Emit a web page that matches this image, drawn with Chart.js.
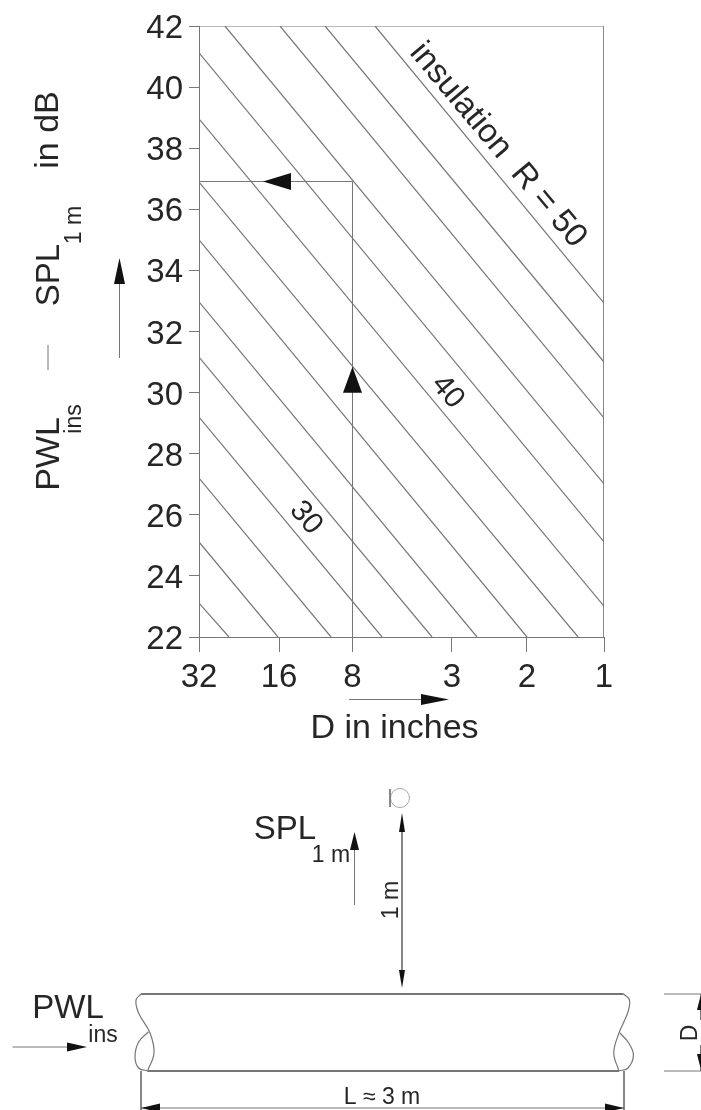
<!DOCTYPE html>
<html>
<head>
<meta charset="utf-8">
<script src="https://cdn.jsdelivr.net/npm/chart.js@4"></script>
<style>
  html, body { margin: 0; padding: 0; background: #fff; overflow: hidden; }
  canvas { display: block; }
</style>
</head>
<body>
<canvas id="nomogram" width="701" height="760"></canvas>
<canvas id="pipe" width="701" height="350"></canvas>
<script>
// tick labels, x axis runs in octave steps from D = 32
var xTickLabels = ['32', '16', '8', '3', '2', '1'];
var xTickPos = [0, 0.988, 1.895, 3.123, 4.049, 5];
var yMin = 22, yMax = 42, yStep = 2;

// insulation lines (start and end of each one)
var lineStartX = [0, 0, 0, 0, 0, 0, 0, 0, 0, 0, 0.32, 1.0, 1.556, 2.173];
var lineStartY = [23.11, 25.11, 27.2, 29.2, 31.16, 32.97, 35.0, 36.89, 38.96, 41.12, 42, 42, 42, 42];
var lineEndX = [0.37, 0.975, 1.63, 2.26, 2.877, 3.432, 4.049, 4.68, 5, 5, 5, 5, 5, 5];
var lineEndY = [22, 22, 22, 22, 22, 22, 22, 22, 23.01, 25.11, 27.01, 29.17, 31.0, 32.93];

// worked example: D = 8 inches gives 37 dB
var guideX = [1.895, 1.895, 0];
var guideY = [22, 36.91, 36.91];

// frame top and right
var frameX = [0, 5, 5];
var frameY = [42, 42, 22];

var LINE = '#767676', INK = '#262626', FONT = '"Liberation Sans", Arial, sans-serif';

function xy(xs, ys) {
  return xs.map(function (x, i) { return { x: x, y: ys[i] }; });
}

function lineSet(xs, ys, width, tension) {
  return {
    type: 'line', data: xy(xs, ys), borderColor: LINE, borderWidth: width || 1,
    pointRadius: 0, fill: false, tension: tension || 0
  };
}

function label(ctx, text, x, y, size, deg) {
  ctx.save();
  ctx.translate(x, y);
  ctx.rotate((deg || 0) * Math.PI / 180);
  ctx.font = size + 'px ' + FONT;
  ctx.fillStyle = INK;
  ctx.textAlign = 'center';
  ctx.textBaseline = 'middle';
  ctx.fillText(text, 0, 0);
  ctx.restore();
}

// filled arrow head, tip at x,y pointing along deg (0 = right, -90 = up)
function head(chart, x, y, deg, len, wide) {
  var ctx = chart.ctx;
  ctx.save();
  ctx.translate(chart.scales.x.getPixelForValue(x), chart.scales.y.getPixelForValue(y));
  ctx.rotate(deg * Math.PI / 180);
  ctx.beginPath();
  ctx.moveTo(0, 0);
  ctx.lineTo(-len, -wide / 2);
  ctx.lineTo(-len, wide / 2);
  ctx.closePath();
  ctx.fillStyle = '#111';
  ctx.fill();
  ctx.restore();
}

var datasets = [];
for (var i = 0; i < lineStartX.length; i++) {
  datasets.push(lineSet([lineStartX[i], lineEndX[i]], [lineStartY[i], lineEndY[i]], 1.2));
}
datasets.push(lineSet(guideX, guideY));
datasets.push(lineSet(frameX, frameY));

var nomogramNotes = {
  id: 'nomogramNotes',
  beforeDraw: function (chart) {
    // y labels sit a little under their ticks in the reference
    chart.scales.y.getLabelItems().forEach(function (item) {
      item.options.translation[1] += 3;
    });
  },
  afterDatasetsDraw: function (chart) {
    var ctx = chart.ctx, sx = chart.scales.x, sy = chart.scales.y;

    label(ctx, 'insulation  R = 50', sx.getPixelForValue(3.69), sy.getPixelForValue(38.1), 33, 50);
    label(ctx, '40', sx.getPixelForValue(3.07), sy.getPixelForValue(30.02), 30, 50);
    label(ctx, '30', sx.getPixelForValue(1.32), sy.getPixelForValue(25.9), 30, 50);

    head(chart, 1.895, 30.85, -90, 26, 19);
    head(chart, 0.79, 36.91, 180, 28, 17);

    // y axis title, put together from pieces because of the subscripts
    label(ctx, 'PWL', 50, 454, 34, -90);
    label(ctx, 'ins', 75, 419, 23, -90);
    label(ctx, 'SPL', 50, 275, 33, -90);
    label(ctx, '1 m', 75, 225, 23, -90);
    label(ctx, 'in dB', 49, 130, 34, -90);
    ctx.strokeStyle = LINE;
    ctx.beginPath();
    ctx.moveTo(48, 345);
    ctx.lineTo(48, 370);
    ctx.moveTo(119.5, 358);
    ctx.lineTo(119.5, 275);
    ctx.stroke();

    // arrows beside the axes
    ctx.fillStyle = '#111';
    ctx.beginPath();
    ctx.moveTo(119.5, 258);
    ctx.lineTo(114, 284);
    ctx.lineTo(125, 284);
    ctx.closePath();
    ctx.fill();

    ctx.beginPath();
    ctx.moveTo(349, 699.5);
    ctx.lineTo(430, 699.5);
    ctx.stroke();
    ctx.beginPath();
    ctx.moveTo(449, 699.5);
    ctx.lineTo(421, 694);
    ctx.lineTo(421, 705);
    ctx.closePath();
    ctx.fill();

    label(ctx, 'D in inches', 394.5, 729, 34);
  }
};

new Chart(document.getElementById('nomogram'), {
  type: 'line',
  data: { datasets: datasets },
  plugins: [nomogramNotes],
  options: {
    responsive: false,
    animation: false,
    layout: { padding: { left: 0, top: 26, right: 97, bottom: 0 } },
    plugins: { legend: { display: false }, tooltip: { enabled: false } },
    scales: {
      x: {
        type: 'linear', min: 0, max: 5,
        afterBuildTicks: function (scale) {
          scale.ticks = xTickPos.map(function (v) { return { value: v }; });
        },
        afterFit: function (scale) { scale.height = 123; },
        grid: { drawOnChartArea: false, color: LINE, tickLength: 15 },
        border: { color: LINE },
        ticks: {
          autoSkip: false, maxRotation: 0, padding: 6, color: INK,
          font: { family: FONT, size: 33 },
          callback: function (value, index) { return xTickLabels[index]; }
        }
      },
      y: {
        type: 'linear', min: yMin, max: yMax,
        afterFit: function (scale) { scale.width = 199; },
        grid: { drawOnChartArea: false, color: LINE, tickLength: 10 },
        border: { color: LINE },
        ticks: { stepSize: yStep, padding: 6, color: INK, font: { family: FONT, size: 33 } }
      }
    }
  }
});

// pipe sketch below the chart, scales run in page pixels
var pipeTopX = [141, 623.6], pipeTopY = [994, 994];
var pipeBottomX = [147.5, 619], pipeBottomY = [1071, 1071];
var waveLeftX = [141, 136, 138.6, 150, 154, 147.5], waveLeftY = [994, 1000, 1013, 1033, 1053, 1071];
var lobeLeftX = [147.5, 138.6, 135, 138.6, 148.4], lobeLeftY = [1071, 1068, 1057, 1042, 1032];
var waveRightX = [623.6, 629.4, 628, 619, 613.8, 619], waveRightY = [994, 1000, 1012, 1033, 1053, 1071];
var lobeRightX = [619, 628, 633.4, 628, 620], lobeRightY = [1071, 1068, 1055, 1042, 1033];

var pipeLines = [
  [[402, 402], [825, 975]],      // 1 m distance
  [[354.5, 354.5], [850, 905]],  // SPL arrow
  [[12.5, 70], [1047, 1047]],    // PWL arrow
  [[141, 141], [1071, 1110]],    // length extension lines
  [[624, 624], [1071, 1110]],
  [[141, 624], [1108, 1108]],    // length
  [[664, 701], [994, 994]],      // diameter extension lines
  [[664, 701], [1071, 1071]],
  [[700.5, 700.5], [994, 1020]], // diameter
  [[700.5, 700.5], [1045, 1071]]
];
var micX = [400], micY = [798];
var micStemX = [390, 390], micStemY = [789, 807];

var pipeSets = [
  lineSet(pipeTopX, pipeTopY, 2),
  lineSet(pipeBottomX, pipeBottomY, 2),
  lineSet(waveLeftX, waveLeftY, 1.2, 0.4),
  lineSet(lobeLeftX, lobeLeftY, 1.2, 0.4),
  lineSet(waveRightX, waveRightY, 1.2, 0.4),
  lineSet(lobeRightX, lobeRightY, 1.2, 0.4),
  lineSet(micStemX, micStemY)
];
pipeLines.forEach(function (l) { pipeSets.push(lineSet(l[0], l[1])); });
pipeSets.push({
  type: 'scatter', data: xy(micX, micY), pointStyle: 'circle', pointRadius: 9.5,
  pointBorderColor: '#a8a8a8', pointBackgroundColor: 'rgba(0,0,0,0)', pointBorderWidth: 1
});

var pipeNotes = {
  id: 'pipeNotes',
  afterDatasetsDraw: function (chart) {
    var ctx = chart.ctx, top = chart.scales.y.getPixelForValue(760);
    function at(text, x, y, size, deg) { label(ctx, text, x, top + y - 760, size, deg); }

    at('SPL', 285, 830, 33);
    at('1 m', 331, 856, 23);
    at('1 m', 392, 900, 23, -90);
    at('PWL', 68, 1009, 33);
    at('ins', 103, 1036, 23);
    at('D', 691, 1033, 23, -90);
    at('L \u2248 3 m', 382, 1098, 23);

    head(chart, 402, 813, -90, 19, 6);
    head(chart, 402, 988, 90, 18, 6);
    head(chart, 354.5, 832, -90, 18, 9);
    head(chart, 87, 1047, 0, 20, 9);
    head(chart, 141, 1108, 180, 19, 9);
    head(chart, 624, 1108, 0, 19, 9);
    head(chart, 700.5, 996, -90, 14, 7);
    head(chart, 700.5, 1068, 90, 14, 7);
  }
};

new Chart(document.getElementById('pipe'), {
  type: 'line',
  data: { datasets: pipeSets },
  plugins: [pipeNotes],
  options: {
    responsive: false,
    animation: false,
    layout: { autoPadding: false },
    plugins: { legend: { display: false }, tooltip: { enabled: false } },
    scales: {
      x: { type: 'linear', min: 0, max: 701, display: false },
      y: { type: 'linear', min: 760, max: 1110, reverse: true, display: false }
    }
  }
});
</script>
</body>
</html>
